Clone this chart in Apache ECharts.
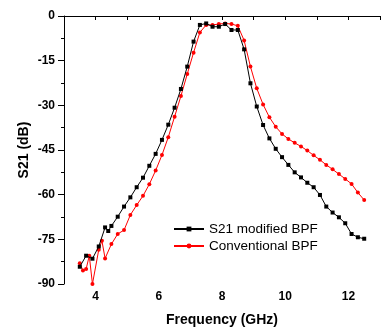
<!DOCTYPE html>
<html><head><meta charset="utf-8">
<script src="https://cdn.jsdelivr.net/npm/echarts@6/dist/echarts.min.js"></script>
<style>html,body{margin:0;padding:0;background:#fff}#c{width:383px;height:332px}</style>
</head><body><div id="c"></div>
<script>
const xTickLabels = ['4','6','8','10','12'];
const yTickLabels = ['0','-15','-30','-45','-60','-75','-90'];
const modFreq = [3.5,3.7,3.9,4.1,4.3,4.4,4.5,4.7,4.9,5.1,5.3,5.5,5.7,5.9,6.1,6.3,6.5,6.7,6.9,7.1,7.3,7.5,7.7,7.9,8.1,8.3,8.5,8.7,8.9,9.1,9.3,9.5,9.7,9.9,10.1,10.3,10.5,10.7,10.9,11.1,11.3,11.5,11.7,11.9,12.1,12.3,12.5];
const modS21 = [-84.2,-80.5,-81.5,-77.4,-71,-72.2,-70.5,-67.4,-64,-60.9,-57.5,-54.3,-50.3,-46.3,-41.6,-36.5,-30.8,-24.5,-17,-8.6,-3.0,-2.5,-3.6,-3.6,-2.7,-4.7,-4.7,-11.2,-22.6,-30.4,-36.6,-41.1,-44.6,-47.4,-50.0,-52.5,-54.2,-56,-57.5,-60.1,-64,-66,-67.6,-69.6,-73.2,-74.3,-74.8];
const convFreq = [3.5,3.6,3.7,3.8,3.9,4.1,4.2,4.3,4.5,4.7,4.9,5.1,5.3,5.5,5.7,5.9,6.1,6.3,6.5,6.7,6.9,7.1,7.3,7.5,7.7,7.9,8.1,8.3,8.5,8.7,8.9,9.1,9.3,9.5,9.7,9.9,10.1,10.3,10.5,10.7,10.9,11.1,11.3,11.5,11.7,11.9,12.1,12.3,12.5];
const convS21 = [-83,-85.5,-85,-80.5,-90,-78.5,-75.5,-81.4,-76.6,-73.2,-71.9,-66.8,-63.5,-60.4,-56.5,-51.9,-46.7,-40.7,-33.8,-26.9,-19.5,-12.3,-5.5,-3.0,-3.0,-2.7,-2.5,-2.7,-3.3,-8.2,-17.0,-24.3,-29.7,-34.0,-37.2,-39.6,-41.3,-42.6,-43.8,-45.2,-46.8,-48.3,-50.0,-51.5,-53.1,-54.7,-56.4,-59.3,-61.8];
const seriesNames = ['S21 modified BPF','Conventional BPF'];

const zip = (a,b) => a.map((v,i)=>[v,b[i]]);
const chart = echarts.init(document.getElementById('c'), null, {renderer:'canvas'});
const FONT = 'Liberation Sans, Arial, sans-serif';
chart.setOption({
  animation:false,
  backgroundColor:'#fff',
  grid:{left:64, top:16, width:327.5, height:268},
  legend:{
    left:168, top:217, orient:'vertical', itemWidth:30, itemHeight:6, itemGap:3,
    textStyle:{fontFamily:FONT, fontSize:13.5, color:'#000'},
    data:seriesNames
  },
  xAxis:{
    type:'value', min:3, max:13, interval:1,
    name:'Frequency (GHz)', nameLocation:'middle', nameGap:29, nameMoveOverlap:false,
    nameTextStyle:{fontFamily:FONT, fontSize:14, fontWeight:'bold', color:'#000', verticalAlign:'top'},
    axisLine:{lineStyle:{color:'#000', width:1}},
    axisTick:{length:4, lineStyle:{color:'#000'}},
    axisLabel:{fontFamily:FONT, fontSize:12, fontWeight:'bold', color:'#000', margin:7,
      formatter:v=>{const s=String(Math.round(v)); return xTickLabels.includes(s)?s:'';}},
    splitLine:{show:false}
  },
  yAxis:{
    type:'value', min:-90, max:0, interval:15,
    name:'S21 (dB)', nameLocation:'middle', nameGap:33, nameRotate:90, nameMoveOverlap:false,
    nameTextStyle:{fontFamily:FONT, fontSize:14, fontWeight:'bold', color:'#000'},
    axisLine:{show:true, lineStyle:{color:'#000', width:1}},
    axisTick:{show:true, length:6, lineStyle:{color:'#000'}},
    minorTick:{show:true, splitNumber:2, length:3, lineStyle:{color:'#000'}},
    axisLabel:{fontFamily:FONT, fontSize:12, fontWeight:'bold', color:'#000', margin:9,
      formatter:v=>{const s=String(Math.round(v)); return yTickLabels.includes(s)?s:'';}},
    splitLine:{show:false}
  },
  series:[
    {name:seriesNames[0], type:'line', data:zip(modFreq,modS21), symbol:'rect', symbolSize:4,
     lineStyle:{color:'#000', width:1}, itemStyle:{color:'#000'}, color:'#000', clip:true, z:3},
    {name:seriesNames[1], type:'line', data:zip(convFreq,convS21), symbol:'circle', symbolSize:4,
     lineStyle:{color:'#ff0000', width:1}, itemStyle:{color:'#ff0000'}, color:'#ff0000', clip:true, z:2}
  ]
});
</script></body></html>
